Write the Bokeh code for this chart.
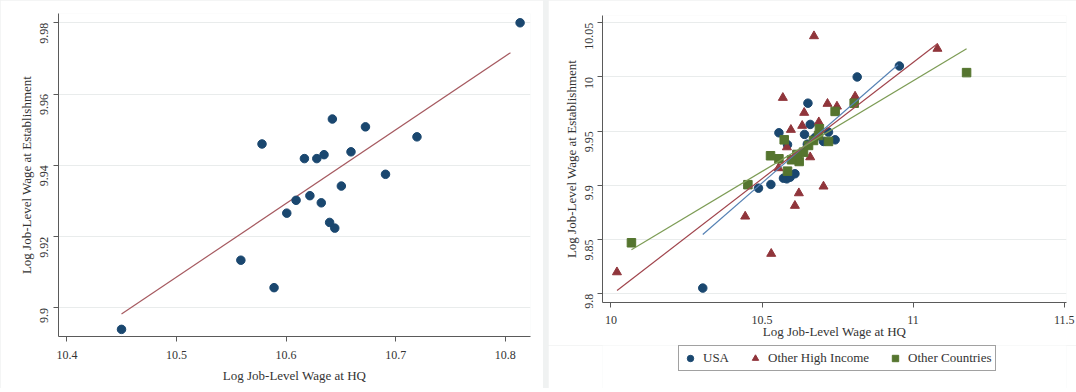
import math
from bokeh.plotting import figure
from bokeh.layouts import row, column
from bokeh.models import Range1d, Legend, LegendItem, FixedTicker
from bokeh.embed import file_html
from bokeh.resources import INLINE

# ---------------- data: left panel ----------------
hq_all = [10.8135, 10.4498, 10.578, 10.5587, 10.589, 10.6006, 10.6091, 10.6217, 10.6167, 10.628,
          10.6346, 10.6321, 10.6422, 10.6397, 10.6444, 10.6504, 10.6592, 10.6724, 10.6907, 10.7194]
est_all = [9.98, 9.894, 9.946, 9.9134, 9.9057, 9.9266, 9.9302, 9.9315, 9.9419, 9.9419,
           9.943, 9.9295, 9.953, 9.924, 9.9224, 9.9342, 9.9438, 9.9508, 9.9375, 9.948]
fit_all_x = [10.4498, 10.8047]
fit_all_y = [9.8983, 9.9716]

left_xticks = [10.4, 10.5, 10.6, 10.7, 10.8]
left_xlabels = ["10.4", "10.5", "10.6", "10.7", "10.8"]
left_yticks = [9.9, 9.92, 9.94, 9.96, 9.98]
left_ylabels = ["9.9", "9.92", "9.94", "9.96", "9.98"]

# ---------------- data: right panel ----------------
usa_x = [10.304, 10.4884, 10.5294, 10.556, 10.571, 10.582, 10.593, 10.609, 10.5844, 10.6406,
         10.6595, 10.652, 10.7035, 10.72, 10.742, 10.815, 10.9546, 10.65, 10.675, 10.62]
usa_y = [9.8052, 9.8974, 9.9008, 9.9485, 9.9066, 9.906, 9.9075, 9.9107, 9.9375, 9.947,
         9.9562, 9.9758, 9.9405, 9.9491, 9.942, 10.0, 10.0101, 9.938, 9.944, 9.928]

ohi_x = [10.020, 10.4444, 10.5305, 10.5547, 10.569, 10.5824, 10.5956, 10.6089, 10.622, 10.6396,
         10.633, 10.6595, 10.688, 10.7035, 10.7167, 10.748, 10.808, 10.672, 11.0805]
ohi_y = [9.8199, 9.8713, 9.8369, 9.9159, 9.9808, 9.9352, 9.9513, 9.8812, 9.8928, 9.967,
         9.955, 9.926, 9.9583, 9.899, 9.9753, 9.9728, 9.982, 10.0377, 10.0261]

oc_x = [10.068, 10.4533, 10.5282, 10.556, 10.5735, 10.5844, 10.623, 10.5977, 10.6374, 10.654,
        10.6705, 10.687, 10.690, 10.72, 10.742, 10.805, 10.6155, 11.177]
oc_y = [9.847, 9.9006, 9.9273, 9.9245, 9.942, 9.9131, 9.922, 9.9236, 9.9306, 9.9368,
        9.9414, 9.946, 9.9522, 9.9405, 9.9682, 9.9758, 9.9285, 10.004]

fit_usa_x = [10.304, 10.95]
fit_usa_y = [9.8546, 10.0113]
fit_ohi_x = [10.0204, 11.0805]
fit_ohi_y = [9.803, 10.0307]
fit_oc_x = [10.068, 11.177]
fit_oc_y = [9.8405, 10.026]

right_xticks = [10.0, 10.5, 11.0, 11.5]
right_xlabels = ["10", "10.5", "11", "11.5"]
right_yticks = [9.8, 9.85, 9.9, 9.95, 10.0, 10.05]
right_ylabels = ["9.8", "9.85", "9.9", "9.95", "10", "10.05"]

group_names = ["USA", "Other High Income", "Other Countries"]

# ---------------- styling ----------------
FONT = "Liberation Serif"
NAVY = "#1a476f"
MAROON = "#90353b"
GREEN = "#55752f"
AXIS = "#5a5a5a"
TXT = "#333333"


def style(p, xticks, xlabels, yticks, ylabels, xstand, ystand, lstand):
    p.xaxis.ticker = FixedTicker(ticks=xticks)
    p.yaxis.ticker = FixedTicker(ticks=yticks)
    p.xaxis.major_label_overrides = dict(zip(xticks, xlabels))
    p.yaxis.major_label_overrides = dict(zip(yticks, ylabels))
    for ax in (p.xaxis[0], p.yaxis[0]):
        ax.axis_line_color = AXIS
        ax.major_tick_line_color = AXIS
        ax.major_tick_out = 5
        ax.major_tick_in = 0
        ax.minor_tick_line_color = None
        ax.major_label_text_font = FONT
        ax.major_label_text_font_size = "12px"
        ax.major_label_text_color = TXT
        ax.major_label_standoff = lstand
        ax.axis_label_text_font = FONT
        ax.axis_label_text_font_size = "13px"
        ax.axis_label_text_font_style = "normal"
        ax.axis_label_text_color = TXT
    p.xaxis.axis_label_standoff = xstand
    p.yaxis.axis_label_standoff = ystand
    p.yaxis.major_label_orientation = math.pi / 2
    p.xgrid.visible = False
    p.ygrid.grid_line_color = "#e9ecec"
    p.ygrid.grid_line_width = 1
    p.outline_line_color = None
    p.background_fill_color = "white"
    p.border_fill_color = "white"


# ---------------- left figure ----------------
p1 = figure(width=543, height=388, output_backend="svg", toolbar_location=None,
            x_range=Range1d(10.3923, 10.823), y_range=Range1d(9.892, 9.9826),
            min_border_left=58, min_border_right=13, min_border_top=13, min_border_bottom=52,
            x_axis_label="Log Job-Level Wage at HQ",
            y_axis_label="Log Job-Level Wage at Establishment")
style(p1, left_xticks, left_xlabels, left_yticks, left_ylabels, 6, 0, 9)
p1.line(fit_all_x, fit_all_y, line_color="#a65a60", line_width=1.2)
p1.scatter(hq_all, est_all, marker="circle", size=8.5, fill_color=NAVY, line_color=NAVY)

# ---------------- right figure ----------------
p2 = figure(width=528, height=345, output_backend="svg", toolbar_location=None,
            x_range=Range1d(9.9722, 11.5076), y_range=Range1d(9.7919, 10.0567),
            min_border_left=54, min_border_right=10, min_border_top=15, min_border_bottom=43,
            x_axis_label="Log Job-Level Wage at HQ",
            y_axis_label="Log Job-Level Wage at Establishment")
style(p2, right_xticks, right_xlabels, right_yticks, right_ylabels, -3, 0, 8)

p2.scatter(usa_x, usa_y, marker="circle", size=8.5, fill_color=NAVY, line_color=NAVY)
p2.scatter(ohi_x, ohi_y, marker="triangle", size=9, fill_color=MAROON, line_color=MAROON)
p2.scatter(oc_x, oc_y, marker="square", size=8.5, fill_color=GREEN, line_color=GREEN)
p2.line(fit_usa_x, fit_usa_y, line_color="#5682b4", line_width=1.2)
p2.line(fit_ohi_x, fit_ohi_y, line_color="#a0444c", line_width=1.2)
p2.line(fit_oc_x, fit_oc_y, line_color="#7d9c55", line_width=1.2)

# ---------------- legend strip under the right figure ----------------
pl = figure(width=528, height=43, output_backend="svg", toolbar_location=None,
            x_range=Range1d(0, 1), y_range=Range1d(0, 1),
            x_axis_type=None, y_axis_type=None,
            min_border_left=0, min_border_right=0, min_border_top=0, min_border_bottom=0)
pl.grid.visible = False
pl.outline_line_color = None
pl.background_fill_color = "white"
pl.border_fill_color = "white"
# the group series re-drawn here (outside this strip's ranges) only to key the legend
l_usa = pl.scatter(usa_x, usa_y, marker="circle", size=8.5, fill_color=NAVY, line_color=NAVY)
l_ohi = pl.scatter(ohi_x, ohi_y, marker="triangle", size=9, fill_color=MAROON, line_color=MAROON)
l_oc = pl.scatter(oc_x, oc_y, marker="square", size=8.5, fill_color=GREEN, line_color=GREEN)

legend = Legend(items=[LegendItem(label=group_names[0], renderers=[l_usa]),
                       LegendItem(label=group_names[1], renderers=[l_ohi]),
                       LegendItem(label=group_names[2], renderers=[l_oc])],
                orientation="horizontal", location=(76, 17),
                label_text_font=FONT, label_text_font_size="13px", label_text_color=TXT,
                glyph_width=16, glyph_height=18, label_standoff=5, spacing=18,
                padding=3, margin=0, border_line_color="#444444", border_line_width=1,
                background_fill_color="white", background_fill_alpha=1.0)
pl.add_layout(legend, "center")

layout = row(column(p1), column(p2, pl, spacing=0), spacing=5,
             styles={"background-color": "#f0f2f2"})
open("out.html", "w").write(file_html(layout, INLINE))
